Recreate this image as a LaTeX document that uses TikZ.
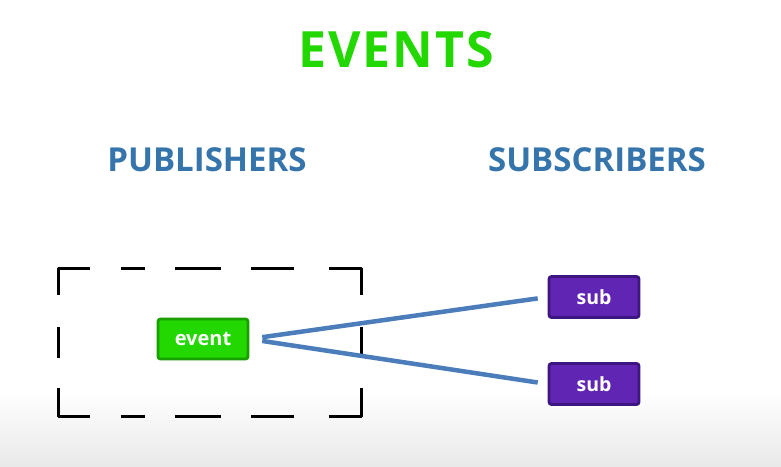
\documentclass[tikz,border=0pt]{standalone}
\usepackage{fontspec}
\setmainfont{Open Sans}
\begin{document}
\begin{tikzpicture}[x=1pt,y=-1pt,
  titletext/.style={font=\bfseries\fontsize{50}{50}\selectfont\addfontfeature{LetterSpace=4}, text=evgreen, inner sep=0},
  headtext/.style={font=\bfseries\fontsize{33}{33}\selectfont, text=hdblue, inner sep=0},
  evbox/.style={draw=evborder, fill=evgreen, line width=2.8pt, rounded corners=2.5pt,
    minimum width=90pt, minimum height=40pt, text=white, font=\bfseries\fontsize{20}{20}\selectfont, inner sep=0},
  subbox/.style={draw=subborder, fill=subfill, line width=2.8pt, rounded corners=2.5pt,
    minimum width=90pt, minimum height=41pt, text=white, font=\bfseries\fontsize{19.5}{19.5}\selectfont, inner sep=0},
  link/.style={draw=linkblue, line width=4.5pt},
  pubframe/.style={draw=black, line width=3pt, line join=round}
]
\definecolor{evgreen}{HTML}{22D800}
\definecolor{evborder}{HTML}{17A000}
\definecolor{hdblue}{HTML}{3575AC}
\definecolor{subfill}{HTML}{6125B3}
\definecolor{subborder}{HTML}{3E1682}
\definecolor{linkblue}{HTML}{4B7DBA}
\definecolor{bggray}{HTML}{E9E9E9}
\useasboundingbox (0,0) rectangle (781,466);
\fill[white] (0,0) rectangle (781,466);
\shade[top color=white, bottom color=bggray] (0,392) rectangle (781,466);
\node[titletext] (title) at (396,50) {EVENTS};
\node[headtext] (pub) at (207,160) {PUBLISHERS};
\node[headtext] (subs) at (597,160) {SUBSCRIBERS};
% dashed publisher frame
\draw[pubframe] (58,295) -- (58,268) -- (90,268);
\draw[pubframe] (329,268) -- (361,268) -- (361,295);
\draw[pubframe] (58,388) -- (58,416) -- (90,416);
\draw[pubframe] (329,416) -- (361,416) -- (361,388);
\foreach \a/\b in {121/145,175/221,251/294} {
  \draw[pubframe] (\a,268) -- (\b,268);
  \draw[pubframe] (\a,416) -- (\b,416);
}
\draw[pubframe] (58,327) -- (58,358);
\draw[pubframe] (361,327) -- (361,358);
\node[evbox] (ev) at (203,339) {event};
\node[subbox] (s1) at (594,297) {sub};
\node[subbox] (s2) at (594,384) {sub};
\draw[link, shorten <=13pt, shorten >=10pt] (ev.east) -- (s1.west);
\draw[link, shorten <=13pt, shorten >=10pt] (ev.east) -- (s2.west);
\end{tikzpicture}
\end{document}
